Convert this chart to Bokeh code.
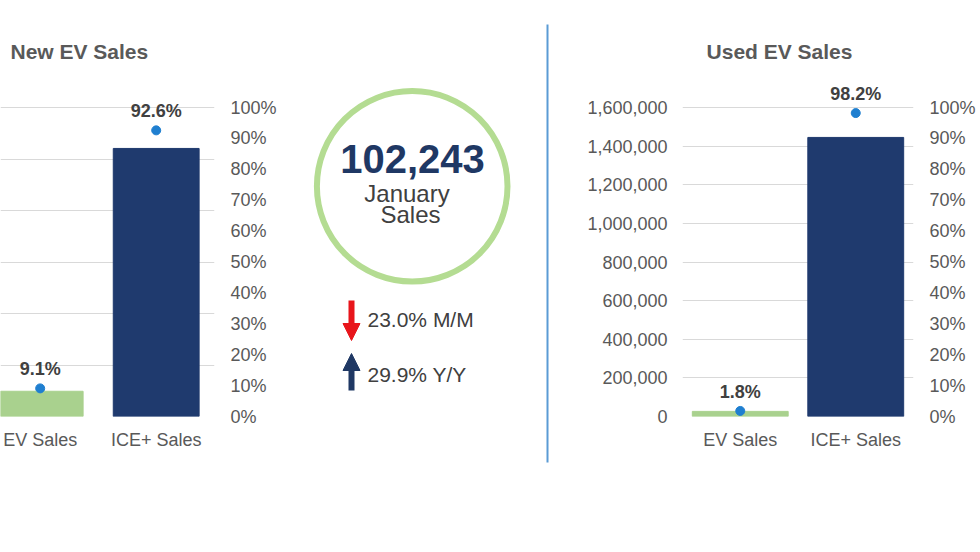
from bokeh.plotting import figure
from bokeh.layouts import row
from bokeh.models import (Range1d, FactorRange, LinearAxis, CategoricalAxis, Grid, FixedTicker,
                          NumeralTickFormatter, Arrow, NormalHead,
                          LabelSet, Label, ColumnDataSource)
from bokeh.core.properties import value
from bokeh.embed import file_html
from bokeh.resources import INLINE

# ---------------- data ----------------
categories = ["EV Sales", "ICE+ Sales"]
new_units = [98000, 1041000]          # left axis is cropped off in the source
new_share = [0.091, 0.926]
new_unit_ticks = [0, 200000, 400000, 600000, 800000, 1000000, 1200000]
used_units = [26500, 1445000]
used_share = [0.018, 0.982]
used_unit_ticks = [0, 200000, 400000, 600000, 800000, 1000000, 1200000, 1400000, 1600000]
pct_ticks = [0.0, 0.1, 0.2, 0.3, 0.4, 0.5, 0.6, 0.7, 0.8, 0.9, 1.0]
total_sales = 102243
period = "January"
mm_change = -23.0
yy_change = 29.9

FONT = "Liberation Sans"
GRAY = "#595959"
DARK = "#404040"
NAVY = "#1f3a6e"
GREEN = "#a9d18e"
DOT = "#1f7fd0"
GRID = "#d9d9d9"
H = 500
FTOP = 20           # frame top (px) - frame includes the title area
TOP = 107           # px of the top tick (100%)
BOT = 416           # frame bottom (px) = 0 line
EXT = (BOT - FTOP) / (BOT - TOP)   # range end relative to the top tick
TITLE_Y = 1.181     # title centre, in share units


def style_axis(ax, standoff):
    ax.axis_line_color = None
    ax.major_tick_line_color = None
    ax.minor_tick_line_color = None
    ax.major_tick_out = 0
    ax.major_tick_in = 0
    ax.major_label_text_font = FONT
    ax.major_label_text_font_size = "18px"
    ax.major_label_text_color = GRAY
    ax.major_label_standoff = standoff


def chart_common(p, xs, shares, unit_ticks, title, title_x, title_align):
    p.outline_line_color = None
    for g in p.grid:
        g.visible = False
    p.extra_y_ranges = {"pct": Range1d(0, pct_ticks[-1] * EXT)}
    p.add_layout(Grid(dimension=1, ticker=FixedTicker(ticks=unit_ticks),
                      grid_line_color=GRID, grid_line_width=1, level="underlay"))
    p.scatter(x=xs, y=shares, y_range_name="pct", size=9, color=DOT)
    src = ColumnDataSource(dict(x=xs, y=shares, t=[f"{v*100:.1f}%" for v in shares]))
    p.add_layout(LabelSet(x="x", y="y", text="t", source=src, y_range_name="pct",
                          y_offset=19, text_align="center", text_baseline="middle",
                          text_font=value(FONT), text_font_size="18px",
                          text_font_style="bold", text_color=DARK))
    p.add_layout(Label(x=title_x, y=TITLE_Y, y_range_name="pct", text=title,
                       text_align=title_align, text_baseline="middle",
                       text_font=FONT, text_font_size="21px",
                       text_font_style="bold", text_color=GRAY))
    ax_r = LinearAxis(y_range_name="pct", ticker=FixedTicker(ticks=pct_ticks),
                      formatter=NumeralTickFormatter(format="0%"))
    style_axis(ax_r, 16)
    p.add_layout(ax_r, "right")


# ---------------- left: New EV Sales ----------------
xpos = list(range(len(categories)))
pa = figure(width=292, height=H, output_backend="svg", toolbar_location=None,
            x_range=Range1d(-0.342, 1.5026), y_range=Range1d(0, new_unit_ticks[-1] * EXT),
            x_axis_location=None, y_axis_location=None,
            min_border_left=0, min_border_right=78, min_border_top=FTOP,
            min_border_bottom=H - BOT)
pa.frame_align = False
pa.vbar(x=xpos, top=new_units, width=0.74, color=[GREEN, NAVY])
chart_common(pa, xpos, new_share, new_unit_ticks, "New EV Sales", -0.256, "left")
ax_b = LinearAxis(ticker=FixedTicker(ticks=xpos),
                  major_label_overrides={i: c for i, c in zip(xpos, categories)})
style_axis(ax_b, 13)
pa.add_layout(ax_b, "below")

# ---------------- middle: summary ----------------
pb = figure(width=268, height=H, output_backend="svg", toolbar_location=None,
            x_range=Range1d(292, 560), y_range=Range1d(H, 0),
            x_axis_location=None, y_axis_location=None, min_border=0)
pb.frame_align = False
pb.outline_line_color = None
for g in pb.grid:
    g.visible = False
pb.circle(x=[411.7], y=[185.8], radius=95.3, fill_color=None, line_color="#b4dc92", line_width=6)
pb.text(x=[412], y=[158.5], text=[f"{total_sales:,}"], text_align="center",
        text_baseline="middle", text_font=value(FONT), text_font_size="40px",
        text_font_style="bold", text_color="#1f3864")
pb.text(x=[406.5, 410], y=[193.3, 214], text=[period, "Sales"], text_align="center",
        text_baseline="middle", text_font=value(FONT), text_font_size="24px",
        text_color=DARK)
pb.text(x=[367, 367], y=[318.7, 374],
        text=[f"{abs(mm_change):.1f}% M/M", f"{abs(yy_change):.1f}% Y/Y"],
        text_align="left", text_baseline="middle", text_font=value(FONT),
        text_font_size="21px", text_color=DARK)
pb.add_layout(Arrow(x_start=351, y_start=300, x_end=351, y_end=340,
                    line_color="#e8151b", line_width=6,
                    end=NormalHead(size=17, fill_color="#e8151b", line_color="#e8151b")))
pb.add_layout(Arrow(x_start=351, y_start=390, x_end=351, y_end=353,
                    line_color="#1f3864", line_width=6,
                    end=NormalHead(size=17, fill_color="#1f3864", line_color="#1f3864")))
pb.segment(x0=[547], y0=[24], x1=[547], y1=[462], line_color="#5b9bd5", line_width=2)

# ---------------- right: Used EV Sales ----------------
pc = figure(width=418, height=H, output_backend="svg", toolbar_location=None,
            x_range=FactorRange(*categories), y_range=Range1d(0, used_unit_ticks[-1] * EXT),
            x_axis_location=None, y_axis_location=None,
            min_border_left=122, min_border_right=65, min_border_top=FTOP,
            min_border_bottom=H - BOT)
pc.frame_align = False
pc.vbar(x=categories, top=used_units, width=0.83, color=[GREEN, NAVY])
chart_common(pc, categories, used_share, used_unit_ticks, "Used EV Sales", 0.84, "center")
cl = LinearAxis(ticker=FixedTicker(ticks=used_unit_ticks),
                formatter=NumeralTickFormatter(format="0,0"))
style_axis(cl, 15)
pc.add_layout(cl, "left")
cbx = CategoricalAxis()
style_axis(cbx, 13)
pc.add_layout(cbx, "below")

layout = row(pa, pb, pc)
open("out.html", "w").write(file_html(layout, INLINE))
